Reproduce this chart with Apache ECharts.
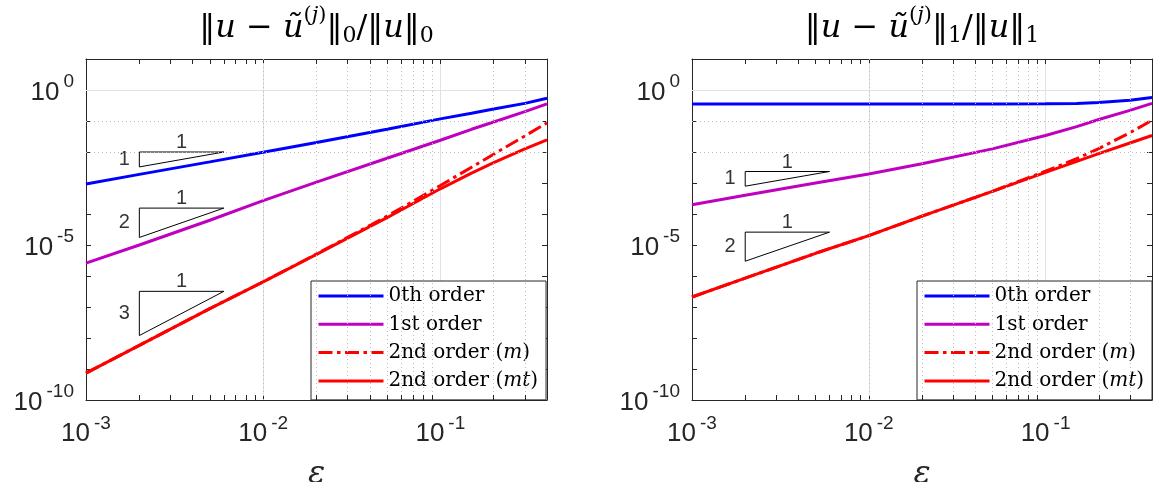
<!DOCTYPE html>
<html>
<head>
<meta charset="utf-8">
<script src="https://cdn.jsdelivr.net/npm/echarts@6/dist/echarts.min.js"></script>
<style>
html, body { margin: 0; padding: 0; background: #fff; }
#main { width: 1153px; height: 482px; }
</style>
</head>
<body>
<div id="main"></div>
<script>
// perturbation parameter
const eps = [0.001, 0.002, 0.005, 0.01, 0.02, 0.05, 0.1, 0.15, 0.2, 0.3, 0.4];

const seriesNames = ['0th order', '1st order', '2nd order (m)', '2nd order (mt)'];
const legendLabels = ['0th order', '1st order', '2nd order ({i|m})', '2nd order ({i|mt})'];
const seriesColors = ['#0000ff', '#bf00bf', '#ff0000', '#ff0000'];

// left panel  ||u - u~||_0 / ||u||_0
const l0Order0 = [9.3e-4, 1.9e-3, 4.8e-3, 9.8e-3, 2.04e-2, 5.4e-2, 0.117, 0.178, 0.245, 0.37, 0.54];
const l0Order1 = [2.6e-6, 1.0e-5, 6.3e-5, 2.7e-4, 1.07e-3, 6.3e-3, 0.024, 0.054, 0.093, 0.2, 0.355];
const l0Order2m = [7.4e-10, 5.8e-9, 8.9e-8, 6.5e-7, 5.1e-6, 8.5e-5, 8.3e-4, 3.24e-3, 8.5e-3, 3.3e-2, 8.7e-2];
const l0Order2mt = [7.4e-10, 5.8e-9, 8.9e-8, 6.5e-7, 5.0e-6, 7.6e-5, 6.5e-4, 2.09e-3, 4.57e-3, 1.26e-2, 2.45e-2];

// right panel  ||u - u~||_1 / ||u||_1
const l1Order0 = [0.355, 0.355, 0.355, 0.355, 0.355, 0.355, 0.359, 0.367, 0.398, 0.468, 0.575];
const l1Order1 = [2.0e-4, 4.0e-4, 1.0e-3, 1.95e-3, 4.2e-3, 1.26e-2, 3.4e-2, 6.6e-2, 0.112, 0.22, 0.37];
const l1Order2m = [2.1e-7, 8.5e-7, 5.4e-6, 2.0e-5, 8.5e-5, 5.4e-4, 2.4e-3, 6.1e-3, 1.29e-2, 4.2e-2, 0.105];
const l1Order2mt = [2.1e-7, 8.5e-7, 5.4e-6, 2.0e-5, 8.5e-5, 5.4e-4, 2.2e-3, 5.0e-3, 8.9e-3, 1.95e-2, 3.4e-2];

// slope triangles
const triX = [0.002, 0.006];
const triRun = '1';
const l0TriTop = [1e-2, 1.55e-4, 3.2e-7];
const l0TriBottom = [3.3e-3, 1.75e-5, 1.2e-8];
const l0TriRise = ['1', '2', '3'];
const l1TriTop = [2.35e-3, 2.6e-5];
const l1TriBottom = [7.9e-4, 3.0e-6];
const l1TriRise = ['1', '2'];

// tick labels (powers of ten)
const xTickExps = [-3, -2, -1];
const yTickExps = [-10, -5, 0];

const SANS = 'Liberation Sans';
const SERIF = 'DejaVu Serif';
const AXIS = '#262626';
const Y_MIN = 1e-10, Y_MAX = 10;
const TICK = 1.45; // minor tick length as a factor on the log y axis (~5px)

const panels = [
  { sub: '0', vals: [l0Order0, l0Order1, l0Order2m, l0Order2mt], top: l0TriTop, bottom: l0TriBottom, rise: l0TriRise },
  { sub: '1', vals: [l1Order0, l1Order1, l1Order2m, l1Order2mt], top: l1TriTop, bottom: l1TriBottom, rise: l1TriRise }
];
const grids = [
  { left: 86, top: 59, width: 461, height: 341, containLabel: false, outerBoundsMode: 'none' },
  { left: 692, top: 59, width: 460, height: 341, containLabel: false, outerBoundsMode: 'none' }
];

function powLabel(list) {
  return function (v) {
    const l = Math.log10(v);
    const e = Math.round(l);
    if (Math.abs(l - e) > 1e-6 || list.indexOf(e) < 0) return '';
    return '{b|10}{s|' + e + '}';
  };
}
const powRich = {
  b: { fontFamily: SANS, fontSize: 26, color: AXIS, lineHeight: 30, verticalAlign: 'middle' },
  s: { fontFamily: SANS, fontSize: 19, color: AXIS, lineHeight: 30, verticalAlign: 'middle', padding: [0, 0, 21, 4] }
};

const xAxis = [], yAxis = [], series = [], graphic = [], legend = [];

panels.forEach(function (p, g) {
  const xBase = {
    type: 'log', gridIndex: g, min: 0.001, max: 0.4, logBase: 10, interval: 1, splitNumber: 3,
    axisLine: { show: true, onZero: false, lineStyle: { color: AXIS, width: 1 } },
    axisTick: { show: true, inside: true, length: 5, lineStyle: { color: AXIS } }
  };
  xAxis.push(Object.assign({}, xBase, {
    position: 'bottom',
    name: 'ε', nameLocation: 'middle', nameGap: 55,
    nameTextStyle: { fontFamily: SERIF, fontStyle: 'italic', fontSize: 32, color: AXIS },
    axisLabel: { margin: 19, formatter: powLabel(xTickExps), rich: powRich },
    splitLine: { show: true, lineStyle: { color: '#e2e2e2', width: 1 } }
  }));
  xAxis.push(Object.assign({}, xBase, {
    position: 'top', axisLabel: { show: false }, splitLine: { show: false }
  }));
  const yBase = {
    type: 'log', gridIndex: g, min: Y_MIN, max: Y_MAX, logBase: 10, interval: 1, splitNumber: 11,
    axisLine: { show: true, onZero: false, lineStyle: { color: AXIS, width: 1 } },
    axisTick: { show: true, inside: true, length: 5, lineStyle: { color: AXIS } },
    splitLine: { show: false }
  };
  yAxis.push(Object.assign({}, yBase, {
    position: 'left',
    axisLabel: { margin: 12, padding: [5, 0, 0, 0], formatter: powLabel(yTickExps), rich: powRich }
  }));
  yAxis.push(Object.assign({}, yBase, { position: 'right', axisLabel: { show: false } }));

  const xi = g * 2, yi = g * 2;

  // grid lines: minor dotted, major solid; plus minor ticks on x
  const gridLines = [], minorTicks = [];
  for (let n = -3; n <= -1; n++) {
    for (let k = 2; k <= 9; k++) {
      const v = k * Math.pow(10, n);
      if (v >= 0.4) continue;
      gridLines.push({ xAxis: v, lineStyle: { type: [1, 3], color: '#bdbdbd', width: 1 } });
      minorTicks.push([{ coord: [v, Y_MIN] }, { coord: [v, Y_MIN * TICK] }]);
      minorTicks.push([{ coord: [v, Y_MAX] }, { coord: [v, Y_MAX / TICK] }]);
    }
  }
  for (let n = -9; n <= 0; n++) {
    const major = n % 5 === 0;
    gridLines.push({ yAxis: Math.pow(10, n), lineStyle: major ? { type: 'solid', color: '#e2e2e2', width: 1 } : { type: [1, 3], color: '#bdbdbd', width: 1 } });
  }
  series.push({
    type: 'line', xAxisIndex: xi, yAxisIndex: yi, data: [], silent: true, z: 1,
    markLine: { silent: true, symbol: ['none', 'none'], label: { show: false }, animation: false, data: gridLines }
  });
  series.push({
    type: 'line', xAxisIndex: xi, yAxisIndex: yi, data: [], silent: true, z: 5,
    markLine: {
      silent: true, symbol: ['none', 'none'], label: { show: false }, animation: false,
      lineStyle: { type: 'solid', color: AXIS, width: 1 }, data: minorTicks
    }
  });

  p.vals.forEach(function (vals, s) {
    series.push({
      name: seriesNames[s], type: 'line', xAxisIndex: xi, yAxisIndex: yi,
      data: eps.map((e, i) => [e, vals[i]]),
      symbol: 'none', silent: true, z: 3,
      lineStyle: { color: seriesColors[s], width: 3, type: s === 2 ? [14, 4.5, 3.5, 4.5] : 'solid' },
      itemStyle: { color: seriesColors[s] }
    });
  });

  const labelData = [];
  p.top.forEach(function (t, j) {
    const b = p.bottom[j];
    series.push({
      type: 'line', xAxisIndex: xi, yAxisIndex: yi, silent: true, z: 4, symbol: 'none',
      lineStyle: { color: '#000', width: 1 },
      data: [[triX[0], t], [triX[1], t], [triX[0], b], [triX[0], t]]
    });
    labelData.push({ value: [Math.sqrt(triX[0] * triX[1]), t], name: triRun, label: { position: 'top', distance: -1 } });
    labelData.push({ value: [triX[0], Math.sqrt(t * b)], name: p.rise[j], label: { position: 'left', distance: 9 } });
  });
  series.push({
    type: 'scatter', xAxisIndex: xi, yAxisIndex: yi, silent: true, z: 4,
    symbolSize: 1, itemStyle: { color: 'rgba(0,0,0,0)' },
    label: { show: true, formatter: '{b}', fontFamily: SANS, fontSize: 20, color: '#000' },
    data: labelData
  });

  const gr = grids[g];
  const tok = { fontFamily: SERIF, fontSize: 32, lineHeight: 44, fill: '#000', verticalAlign: 'middle' };
  graphic.push({
    type: 'text', x: gr.left + gr.width / 2, y: 7, silent: true,
    style: {
      text: '{n|‖}{i|u}{n| − }{i|ũ}{sup|(}{supi|j}{sup|)}{n|‖}{sub|' + p.sub + '}{n|/‖}{i|u}{n|‖}{sub|' + p.sub + '}',
      align: 'center', verticalAlign: 'top',
      rich: {
        n: tok,
        i: Object.assign({}, tok, { fontStyle: 'italic' }),
        sup: Object.assign({}, tok, { fontSize: 21, padding: [0, 0, 26, 0] }),
        supi: Object.assign({}, tok, { fontSize: 21, fontStyle: 'italic', padding: [0, 0, 26, 0] }),
        sub: Object.assign({}, tok, { fontSize: 22, padding: [15, 0, 0, 0] })
      }
    }
  });

  legend.push({
    data: seriesNames, orient: 'vertical', left: gr.left + 225, top: 281,
    itemWidth: 65, itemHeight: 14, itemGap: 8.3,
    padding: [5, 8, 9, 6], backgroundColor: '#fff', borderColor: '#262626', borderWidth: 1, borderRadius: 0,
    selectedMode: false,
    lineStyle: { width: 3 },
    itemStyle: { color: 'rgba(0,0,0,0)', borderWidth: 0 },
    textStyle: {
      fontFamily: SERIF, fontSize: 20, color: '#000', lineHeight: 20,
      rich: { i: { fontFamily: SERIF, fontStyle: 'italic', fontSize: 20, color: '#000', lineHeight: 20 } }
    },
    formatter: function (name) { return legendLabels[seriesNames.indexOf(name)]; }
  });
});

const chart = echarts.init(document.getElementById('main'));
chart.setOption({
  animation: false,
  backgroundColor: '#fff',
  grid: grids,
  xAxis: xAxis,
  yAxis: yAxis,
  legend: legend,
  graphic: graphic,
  series: series
});
</script>
</body>
</html>
